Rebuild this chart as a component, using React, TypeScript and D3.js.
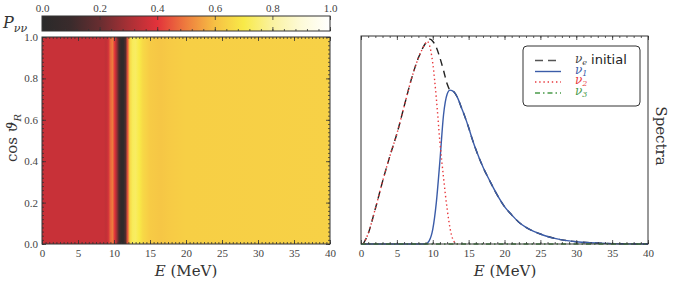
import React, { useRef, useEffect } from "react";
import * as d3 from "d3";

const W = 680;
const H = 287;
const heat = { left: 42, right: 330, top: 37, bottom: 244 }; // P_nunu map
const cbar = { left: 42, right: 330, top: 16, bottom: 31 }; // colour bar
const spec = { left: 361, right: 648, top: 36, bottom: 244 }; // spectra panel
const serif = "DejaVu Serif, Liberation Serif, serif";
const tickFont = "'Liberation Serif', 'DejaVu Serif', serif";
const ink = "#333";

// colour map stops (value -> colour)
const cmapPos = [0, 0.1, 0.2, 0.3, 0.4, 0.5, 0.6, 0.7, 0.8, 0.9, 1.0];
const cmapCol = ["#2a2a2a", "#3a2b2c", "#672d30", "#a83035", "#e2323b", "#ee7c3e", "#f6c044", "#f8ea48", "#faf2a0", "#fdfad8", "#ffffff"];

// survival probability along E (same for every cos theta_R)
const heatE = [0, 8.6, 8.9, 9.2, 9.5, 9.8, 10.1, 10.4, 10.7, 11.0, 11.3, 11.6, 11.9, 12.2, 12.6, 13.0, 13.5, 14.0, 15.0, 16.5, 18.0, 20.0, 40.0];
const heatP = [0.355, 0.355, 0.34, 0.37, 0.47, 0.5, 0.4, 0.28, 0.12, 0.03, 0.03, 0.15, 0.45, 0.66, 0.72, 0.73, 0.7, 0.66, 0.625, 0.615, 0.625, 0.635, 0.64];
const cosDomain = [0, 1];

// spectra
const tailE = [13, 13.5, 14, 14.5, 15, 15.5, 16, 17, 18, 19, 20, 21, 22, 23, 24, 25, 26, 27, 28, 29, 30, 32, 35, 40];
const tailV = [0.73, 0.7, 0.655, 0.61, 0.56, 0.505, 0.455, 0.37, 0.3, 0.235, 0.18, 0.14, 0.105, 0.08, 0.062, 0.048, 0.036, 0.027, 0.02, 0.015, 0.011, 0.006, 0.002, 0];
const initE = [0.3, 1, 2, 3, 4, 5, 6, 7, 8, 9, 9.6, 10, 10.5, 11, 11.5, 12, 12.4, ...tailE];
const initV = [0, 0.05, 0.17, 0.3, 0.42, 0.53, 0.66, 0.79, 0.895, 0.965, 0.985, 0.975, 0.945, 0.895, 0.835, 0.77, 0.74, ...tailV];
const nu1E = [0, 9, 9.5, 10, 10.5, 11, 11.5, 12, 12.4, ...tailE];
const nu1V = [0, 0, 0.015, 0.07, 0.2, 0.4, 0.62, 0.72, 0.74, ...tailV];
const nu2E = [0.3, 1, 2, 3, 4, 5, 6, 7, 8, 9, 9.2, 9.5, 10, 10.5, 11, 11.5, 12, 12.5, 13, 13.5];
const nu2V = [0, 0.05, 0.17, 0.3, 0.42, 0.53, 0.66, 0.79, 0.895, 0.965, 0.975, 0.96, 0.87, 0.7, 0.49, 0.32, 0.17, 0.06, 0.01, 0];
const nu3E = [0, 40];
const nu3V = [0, 0];

const eTicks = d3.range(0, 41, 5);
const eMinor = d3.range(0, 40.01, 0.5);
const eMinorSpec = d3.range(0, 41, 1);
const cosTicks = d3.range(0, 1.01, 0.2);
const cosMinor = d3.range(0, 1.001, 0.02);
const cbarTicks = d3.range(0, 1.01, 0.2);
const cbarMinor = d3.range(0, 1.001, 0.04);

const cmap = d3.scaleLinear<string>().domain(cmapPos).range(cmapCol).interpolate(d3.interpolateRgb);
const xHeat = d3.scaleLinear().domain([0, 40]).range([heat.left, heat.right]);
const yHeat = d3.scaleLinear().domain([0, 1]).range([heat.bottom, heat.top]);
const xCbar = d3.scaleLinear().domain([0, 1]).range([cbar.left, cbar.right]);
const xSpec = d3.scaleLinear().domain([0, 40]).range([spec.left, spec.right]);
const ySpec = d3.scaleLinear().domain([0, 1]).range([spec.bottom, spec.top]);

const styleAxis = (g: any, labels: boolean) => {
  g.attr("font-family", null);
  g.select(".domain").remove();
  g.selectAll("line").attr("stroke", ink).attr("stroke-width", 0.8);
  if (labels)
    g.selectAll("text")
      .style("font-family", tickFont)
      .style("font-size", "11px")
      .attr("fill", "#444");
};

const curve = (xs: number[], ys: number[]) =>
  d3.line<number>().x((_, i) => xSpec(xs[i])).y((v) => ySpec(v)).curve(d3.curveMonotoneX)(ys) || "";

export default function App() {
  const axes = useRef<SVGGElement>(null);

  useEffect(() => {
    if (!axes.current) return;
    const root = d3.select(axes.current);
    root.selectAll("*").remove();
    const add = (tr: string, axis: any, labels: boolean) => {
      const g = root.append("g").attr("transform", tr).call(axis);
      styleAxis(g, labels);
    };
    const fmt = d3.format(".1f");
    const none = () => "";
    // heat map
    add(`translate(0,${heat.bottom})`, d3.axisBottom(xHeat).tickValues(eTicks).tickSizeInner(-4).tickSizeOuter(0).tickPadding(5).tickFormat(d3.format("d")), true);
    add(`translate(0,${heat.bottom})`, d3.axisBottom(xHeat).tickValues(eMinor).tickSizeInner(-2).tickSizeOuter(0).tickFormat(none), false);
    add(`translate(0,${heat.top})`, d3.axisTop(xHeat).tickValues(eTicks).tickSizeInner(-4).tickSizeOuter(0).tickFormat(none), false);
    add(`translate(0,${heat.top})`, d3.axisTop(xHeat).tickValues(eMinor).tickSizeInner(-2).tickSizeOuter(0).tickFormat(none), false);
    add(`translate(${heat.left},0)`, d3.axisLeft(yHeat).tickValues(cosTicks).tickSizeInner(-4).tickSizeOuter(0).tickPadding(4).tickFormat(fmt as any), true);
    add(`translate(${heat.left},0)`, d3.axisLeft(yHeat).tickValues(cosMinor).tickSizeInner(-2).tickSizeOuter(0).tickFormat(none), false);
    add(`translate(${heat.right},0)`, d3.axisRight(yHeat).tickValues(cosTicks).tickSizeInner(-4).tickSizeOuter(0).tickFormat(none), false);
    add(`translate(${heat.right},0)`, d3.axisRight(yHeat).tickValues(cosMinor).tickSizeInner(-2).tickSizeOuter(0).tickFormat(none), false);
    // colour bar
    add(`translate(0,${cbar.top})`, d3.axisTop(xCbar).tickValues(cbarTicks).tickSizeInner(-4).tickSizeOuter(0).tickPadding(4).tickFormat(fmt as any), true);
    add(`translate(0,${cbar.bottom})`, d3.axisBottom(xCbar).tickValues(cbarTicks).tickSizeInner(-4).tickSizeOuter(0).tickFormat(none), false);
    add(`translate(0,${cbar.bottom})`, d3.axisBottom(xCbar).tickValues(cbarMinor).tickSizeInner(-2).tickSizeOuter(0).tickFormat(none), false);
    // spectra
    add(`translate(0,${spec.bottom})`, d3.axisBottom(xSpec).tickValues(eTicks).tickSizeInner(-4).tickSizeOuter(0).tickPadding(5).tickFormat(d3.format("d")), true);
    add(`translate(0,${spec.bottom})`, d3.axisBottom(xSpec).tickValues(eMinorSpec).tickSizeInner(-2).tickSizeOuter(0).tickFormat(none), false);
    add(`translate(0,${spec.top})`, d3.axisTop(xSpec).tickValues(eTicks).tickSizeInner(-4).tickSizeOuter(0).tickFormat(none), false);
    add(`translate(0,${spec.top})`, d3.axisTop(xSpec).tickValues(eMinorSpec).tickSizeInner(-2).tickSizeOuter(0).tickFormat(none), false);
  }, []);

  const x0 = xHeat(0);
  const span = xHeat(40) - x0;
  const lg = { x: 523, y: 46, w: 117, h: 60 };
  const rows = [60.5, 71.5, 82, 93];
  const hx = [535, 561];
  const txt = { fontFamily: serif };

  return (
    <svg width={W} height={H} style={{ position: "absolute", left: 0, top: 0, background: "#fff" }}>
      <defs>
        <linearGradient id="cbarGrad" x1="0" x2="1" y1="0" y2="0">
          {cmapPos.map((p, i) => (
            <stop key={i} offset={p} stopColor={cmapCol[i]} />
          ))}
        </linearGradient>
        <linearGradient id="heatGrad" gradientUnits="userSpaceOnUse" x1={heat.left} x2={heat.right} y1="0" y2="0">
          {heatE.map((e, i) => (
            <stop key={i} offset={(xHeat(e) - x0) / span} stopColor={cmap(heatP[i])} />
          ))}
        </linearGradient>
      </defs>

      {/* colour bar */}
      <rect x={cbar.left} y={cbar.top} width={cbar.right - cbar.left} height={cbar.bottom - cbar.top} fill="url(#cbarGrad)" />
      <rect x={cbar.left} y={cbar.top} width={cbar.right - cbar.left} height={cbar.bottom - cbar.top} fill="none" stroke={ink} strokeWidth={1} />
      <text x={3} y={28} style={txt} fontSize={16} fontStyle="italic" fill={ink}>
        P<tspan fontSize={11} dy={4}>νν</tspan>
      </text>

      {/* heat map */}
      <rect x={heat.left} y={yHeat(cosDomain[1])} width={span} height={yHeat(cosDomain[0]) - yHeat(cosDomain[1])} fill="url(#heatGrad)" />
      <rect x={heat.left} y={heat.top} width={heat.right - heat.left} height={heat.bottom - heat.top} fill="none" stroke={ink} strokeWidth={1} />
      <text transform="translate(17,138) rotate(-90)" textAnchor="middle" style={txt} fontSize={15} fill={ink}>
        cos <tspan fontStyle="italic">ϑ</tspan><tspan fontStyle="italic" fontSize={10} dy={4}>R</tspan>
      </text>
      <text x={186} y={276} textAnchor="middle" style={txt} fontSize={15} fill={ink}>
        <tspan fontStyle="italic">E</tspan> (MeV)
      </text>

      {/* spectra */}
      <g fill="none" strokeWidth={1.4}>
        <path d={curve(initE, initV)} stroke="#222" strokeDasharray="7,5" />
        <path d={curve(nu1E, nu1V)} stroke="#3b5ca8" />
        <path d={curve(nu2E, nu2V)} stroke="#e8383c" strokeDasharray="1.4,2.8" />
        <path d={curve(nu3E, nu3V)} stroke="#4a9a4a" strokeDasharray="5,3,1.5,3" />
      </g>
      <rect x={spec.left} y={spec.top} width={spec.right - spec.left} height={spec.bottom - spec.top} fill="none" stroke={ink} strokeWidth={1} />
      <text x={505} y={276} textAnchor="middle" style={txt} fontSize={15} fill={ink}>
        <tspan fontStyle="italic">E</tspan> (MeV)
      </text>
      <text transform="translate(656,136) rotate(90)" textAnchor="middle" style={txt} fontSize={15} fill={ink}>
        Spectra
      </text>

      {/* legend */}
      <rect x={lg.x} y={lg.y} width={lg.w} height={lg.h} rx={4} fill="#fff" stroke={ink} strokeWidth={1} />
      <g strokeWidth={1.4}>
        <line x1={hx[0]} x2={hx[1]} y1={rows[0]} y2={rows[0]} stroke="#555" strokeDasharray="8,5" />
        <line x1={hx[0]} x2={hx[1]} y1={rows[1]} y2={rows[1]} stroke="#3b5ca8" />
        <line x1={hx[0]} x2={hx[1]} y1={rows[2]} y2={rows[2]} stroke="#e8383c" strokeDasharray="1.4,2.8" />
        <line x1={hx[0]} x2={hx[1]} y1={rows[3]} y2={rows[3]} stroke="#4a9a4a" strokeDasharray="5,3,1.5,3" />
      </g>
      <g style={txt} fontStyle="italic" fontSize={12}>
        <text x={575} y={rows[0] + 2} fill="#444">
          ν<tspan fontSize={8} dy={2}>e</tspan>
          <tspan fontStyle="normal" style={{ fontFamily: "DejaVu Sans, sans-serif" }} fontSize={13} dy={-1} dx={4} fill="#222">initial</tspan>
        </text>
        <text x={575} y={rows[1] + 2} fill="#3b5ca8">
          ν<tspan fontSize={8} dy={2}>1</tspan>
        </text>
        <text x={575} y={rows[2] + 2} fill="#e8383c">
          ν<tspan fontSize={8} dy={2}>2</tspan>
        </text>
        <text x={575} y={rows[3] + 2} fill="#4a9a4a">
          ν<tspan fontSize={8} dy={2}>3</tspan>
        </text>
      </g>

      <g ref={axes} />
    </svg>
  );
}
